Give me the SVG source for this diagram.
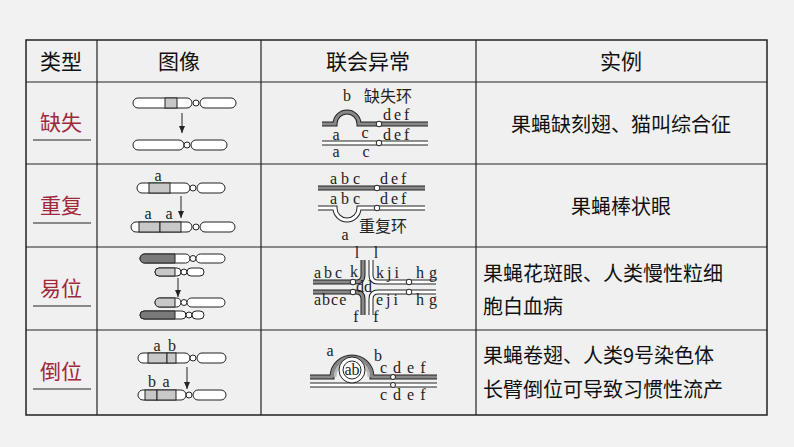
<svg xmlns="http://www.w3.org/2000/svg" width="794" height="447" viewBox="0 0 794 447">
<style>
.h{font-family:"Noto Sans CJK SC","Noto Sans",sans-serif;font-size:21px;fill:#111;text-anchor:middle}
.t{font-family:"Noto Sans CJK SC",sans-serif;font-size:20px;fill:#111}
.r{font-family:"Noto Sans CJK SC",sans-serif;font-size:21px;fill:#a0283c;text-anchor:middle}
.s{font-family:"Liberation Serif","Noto Sans CJK SC",serif;font-size:16px;fill:#222}
.k{font-family:"Noto Sans CJK SC",sans-serif;font-size:16px;fill:#222}
.c{fill:#fff;stroke:#222;stroke-width:1}
.g{fill:#c8c8c8;stroke:#222;stroke-width:1}
.dk{fill:#7a7a7a;stroke:#222;stroke-width:1}
.ln{stroke:#222;stroke-width:1}
.th{fill:none;stroke:#222;stroke-width:5}
.thi{fill:none;stroke:#888;stroke-width:3}
.db{fill:none;stroke:#222;stroke-width:5}
.dbi{fill:none;stroke:#fff;stroke-width:3}
.o{fill:#fff;stroke:#222;stroke-width:1}
</style>
<defs><marker id="ar" markerWidth="8" markerHeight="8" refX="7" refY="4" orient="auto" markerUnits="userSpaceOnUse"><path d="M0,1 L7,4 L0,7 Z" fill="#222"/></marker></defs>
<rect width="794" height="447" fill="#f2f2f2"/>
<g id="table">
<rect x="26" y="40" width="741" height="375" fill="#f0f0f0" stroke="#222" stroke-width="1.5"/>
<g stroke="#222" stroke-width="1.2">
<line x1="97" y1="40" x2="97" y2="415"/><line x1="261" y1="40" x2="261" y2="415"/><line x1="476" y1="40" x2="476" y2="415"/>
<line x1="26" y1="82" x2="767" y2="82"/><line x1="26" y1="164" x2="767" y2="164"/><line x1="26" y1="247" x2="767" y2="247"/><line x1="26" y1="330" x2="767" y2="330"/>
</g>
<text class="h" x="61" y="69">类型</text><text class="h" x="179" y="69">图像</text><text class="h" x="368" y="69">联会异常</text><text class="h" x="621" y="69">实例</text>
<text class="r" x="61" y="130">缺失</text><line x1="33" y1="140" x2="91" y2="140" stroke="#222"/>
<text class="r" x="61" y="213">重复</text><line x1="33" y1="223" x2="91" y2="223" stroke="#222"/>
<text class="r" x="61" y="296">易位</text><line x1="33" y1="306" x2="91" y2="306" stroke="#222"/>
<text class="r" x="61" y="379">倒位</text><line x1="33" y1="389" x2="91" y2="389" stroke="#222"/>
<text class="t" x="621" y="132" text-anchor="middle">果蝇缺刻翅、猫叫综合征</text>
<text class="t" x="621" y="214" text-anchor="middle">果蝇棒状眼</text>
<text class="t" x="483" y="281">果蝇花斑眼、人类慢性粒细</text><text class="t" x="483" y="314">胞白血病</text>
<text class="t" x="483" y="363">果蝇卷翅、人类9号染色体</text><text class="t" x="483" y="397">长臂倒位可导致习惯性流产</text>
</g>
<g id="img1">
<rect class="c" x="133" y="98" width="59" height="10" rx="5"/><rect class="g" x="165" y="98" width="12" height="10"/>
<circle class="o" cx="196" cy="103" r="3"/><rect class="c" x="200" y="98" width="36" height="10" rx="5"/>
<rect class="c" x="133" y="140" width="51" height="10" rx="5"/><circle class="o" cx="187" cy="145" r="3"/><rect class="c" x="191" y="140" width="36" height="10" rx="5"/>
</g>
<g id="img2">
<text class="s" x="158" y="181" text-anchor="middle">a</text>
<rect class="c" x="137" y="183" width="53" height="10" rx="5"/><rect class="g" x="149" y="183" width="21" height="10"/>
<circle class="o" cx="193" cy="188" r="3"/><rect class="c" x="197" y="183" width="28" height="10" rx="5"/>
<text class="s" x="148" y="219" text-anchor="middle">a</text><text class="s" x="169" y="219" text-anchor="middle">a</text>
<rect class="c" x="131" y="222" width="61" height="10" rx="5"/><rect class="g" x="139" y="222" width="21" height="10"/><rect class="g" x="160" y="222" width="21" height="10"/>
<circle class="o" cx="196" cy="227" r="3"/><rect class="c" x="200" y="222" width="35" height="10" rx="5"/>
</g>
<g id="img3">
<rect class="c" x="140" y="254" width="50" height="9" rx="4.5"/><path class="dk" d="M144.5,254 H175 V263 H144.5 A4.5,4.5 0 0 1 144.5,254Z"/>
<circle class="o" cx="193" cy="258.5" r="3"/><rect class="c" x="196" y="254" width="29" height="9" rx="4.5"/>
<rect class="c" x="155" y="268" width="26" height="8" rx="4"/><path class="g" d="M159,268 H175 V276 H159 A4,4 0 0 1 159,268Z"/>
<circle class="o" cx="184" cy="272" r="3"/><rect class="c" x="187" y="268" width="17" height="8" rx="4"/>
<rect class="c" x="155" y="298" width="26" height="9" rx="4.5"/><path class="g" d="M159.5,298 H175 V307 H159.5 A4.5,4.5 0 0 1 159.5,298Z"/>
<circle class="o" cx="184" cy="302.5" r="3"/><rect class="c" x="187" y="298" width="38" height="9" rx="4.5"/>
<rect class="c" x="140" y="311" width="46" height="8" rx="4"/><path class="dk" d="M144,311 H175 V319 H144 A4,4 0 0 1 144,311Z"/>
<circle class="o" cx="189" cy="315" r="3"/><rect class="c" x="192" y="311" width="12" height="8" rx="4"/>
</g>
<g id="img4">
<text class="s" x="157" y="351" text-anchor="middle">a</text><text class="s" x="172" y="351" text-anchor="middle">b</text>
<rect class="c" x="138" y="353" width="52" height="10" rx="5"/><rect class="g" x="148" y="353" width="19" height="10"/><rect class="g" x="167" y="353" width="9" height="10"/>
<circle class="o" cx="193" cy="358" r="3"/><rect class="c" x="197" y="353" width="29" height="10" rx="5"/>
<text class="s" x="152" y="387" text-anchor="middle">b</text><text class="s" x="166" y="387" text-anchor="middle">a</text>
<rect class="c" x="138" y="390" width="48" height="10" rx="5"/><rect class="g" x="145" y="390" width="12" height="10"/><rect class="g" x="157" y="390" width="19" height="10"/>
<circle class="o" cx="189" cy="395" r="3"/><rect class="c" x="193" y="390" width="33" height="10" rx="5"/>
</g>
<g id="pair1">
<path class="th" d="M322,124 H335 A12,12 0 0 1 359,124 H428"/><path class="thi" d="M322,124 H335 A12,12 0 0 1 359,124 H428"/>
<circle class="o" cx="379" cy="124" r="2.8"/>
<path class="db" d="M322,143 H428"/><path class="dbi" d="M322,143 H428"/><circle class="o" cx="379" cy="143" r="2.8"/>
<text class="s" x="347" y="101" text-anchor="middle">b</text>
<text class="k" x="364" y="102">缺失环</text>
<text class="s" x="383" y="120" letter-spacing="3">def</text>
<text class="s" x="336" y="140" text-anchor="middle">a</text><text class="s" x="365" y="138" text-anchor="middle">c</text><text class="s" x="383" y="140" letter-spacing="3">def</text>
<text class="s" x="336" y="157" text-anchor="middle">a</text><text class="s" x="366" y="157" text-anchor="middle">c</text>
</g>
<g id="pair2">
<path class="th" d="M318,188 H425"/><path class="thi" d="M318,188 H425"/><circle class="o" cx="377" cy="188" r="2.8"/>
<path class="db" d="M318,208 H335 A12,12 0 0 0 359,208 H425"/><path class="dbi" d="M318,208 H335 A12,12 0 0 0 359,208 H425"/><circle class="o" cx="377" cy="208" r="2.8"/>
<text class="s" x="330" y="184" letter-spacing="4">abc</text><text class="s" x="380" y="184" letter-spacing="3">def</text>
<text class="s" x="330" y="204" letter-spacing="4">abc</text><text class="s" x="380" y="204" letter-spacing="3">def</text>
<text class="k" x="359" y="232">重复环</text>
<text class="s" x="345" y="240" text-anchor="middle">a</text>
</g>
<g id="pair3">
<path class="th" d="M313,282 H356 Q363,282 363,275 V260"/><path class="thi" d="M313,282 H356 Q363,282 363,275 V260"/>
<path class="db" d="M313,292 H356 Q363,292 363,299 V315"/><path class="thi" d="M313,292 H356 Q363,292 363,299 V315"/>
<path class="db" d="M436,282 H378 Q371,282 371,275 V260"/><path class="dbi" d="M436,282 H378 Q371,282 371,275 V260"/>
<path class="db" d="M436,292 H378 Q371,292 371,299 V315"/><path class="dbi" d="M436,292 H378 Q371,292 371,299 V315"/>
<circle class="o" cx="353" cy="282" r="2.8"/><circle class="o" cx="409" cy="282" r="2.8"/><circle class="o" cx="353" cy="292" r="2.8"/><circle class="o" cx="409" cy="292" r="2.8"/>
<text class="s" x="357" y="258" text-anchor="middle">l</text><text class="s" x="376" y="258" text-anchor="middle">l</text>
<text class="s" x="314" y="278" letter-spacing="3">abc</text><text class="s" x="354" y="277" text-anchor="middle">k</text>
<text class="s" x="376" y="278" letter-spacing="3">kji</text><text class="s" x="416" y="278" letter-spacing="5">hg</text>
<text class="s" x="364" y="292" text-anchor="middle">dd</text>
<text class="s" x="314" y="305" letter-spacing="1">abce</text><text class="s" x="376" y="305" letter-spacing="3">eji</text><text class="s" x="416" y="305" letter-spacing="5">hg</text>
<text class="s" x="356" y="322" text-anchor="middle">f</text><text class="s" x="376" y="322" text-anchor="middle">f</text>
</g>
<g id="pair4">
<path class="th" d="M310,377 H332 A20,20 0 0 1 372,377 H437"/><path class="thi" d="M310,377 H332 A20,20 0 0 1 372,377 H437"/>
<path d="M335,377 A17,17 0 0 1 369,377" fill="none" stroke="#bbb" stroke-width="3"/>
<path class="db" d="M310,385 H437"/><path class="dbi" d="M310,385 H437"/>
<circle cx="352" cy="370" r="13" fill="#fff" stroke="#222"/><circle cx="352" cy="370" r="9" fill="#fff" stroke="#222"/>
<text class="s" x="352" y="375" text-anchor="middle">ab</text>
<circle class="o" cx="393" cy="377" r="2.5"/><circle class="o" cx="393" cy="385" r="2.5"/>
<text class="s" x="330" y="356" text-anchor="middle">a</text><text class="s" x="378" y="361" text-anchor="middle">b</text>
<text class="s" x="380" y="373" letter-spacing="6">cdef</text><text class="s" x="380" y="400" letter-spacing="6">cdef</text>
</g>
<g id="connectors">
<line class="ln" x1="182" y1="113" x2="182" y2="133" marker-end="url(#ar)"/>
<line class="ln" x1="181" y1="196" x2="181" y2="218" marker-end="url(#ar)"/>
<line class="ln" x1="178" y1="278" x2="178" y2="297" marker-end="url(#ar)"/>
<line class="ln" x1="187" y1="367" x2="187" y2="389" marker-end="url(#ar)"/>
</g>
</svg>
